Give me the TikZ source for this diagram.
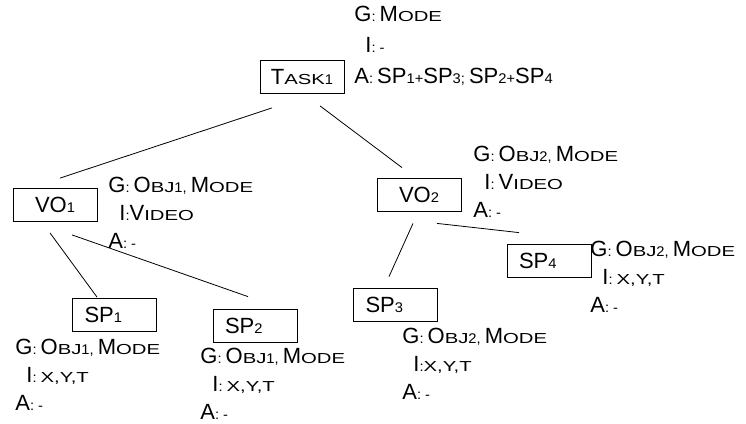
\documentclass[tikz,border=0pt]{standalone}
\usepackage{fontspec}
\setmainfont{Liberation Sans}
\newfontfamily\capfont{Liberation Sans}[FakeStretch=1.4]
\newfontfamily\numfont{Liberation Sans}[FakeStretch=1.05]
\newcommand{\lowcap}[1]{{\capfont\fontsize{14.5pt}{14.5pt}\selectfont #1}}
\newcommand{\lownum}[1]{{\numfont\fontsize{14pt}{14pt}\selectfont #1}}

\begin{document}
\begin{tikzpicture}[x=1pt, y=-1pt, line width=0.8pt,
    box/.style={draw, minimum width=84pt, minimum height=33pt, inner sep=0pt,
      font=\fontsize{22pt}{22pt}\selectfont},
    spbox/.style={box, text width=60pt, align=left, inner xsep=12pt},
    info/.style={anchor=north west, align=left, inner sep=0pt,
      font=\fontsize{22pt}{28pt}\selectfont}]
    \useasboundingbox (0, 0) rectangle (746, 423);

    \node (task1) at (302, 77) [box] {T\lowcap{ASK}\lownum{1}};
    \node (task1info) at (354, 6) [info, font=\fontsize{22pt}{31pt}\selectfont]
      {G\lownum{: }M\lowcap{ODE} \\ \hspace*{11pt}I\lownum{: -} \\
       A\lownum{: }SP\lownum{1+}SP\lownum{3; }SP\lownum{2+}SP\lownum{4}};

    \node (vo1) at (55, 205) [box] {VO\lownum{1}};
    \node (vo1info) at (108, 177) [info]
      {G\lownum{: }O\lowcap{BJ}\lownum{1, }M\lowcap{ODE} \\
       \hspace*{11pt}I\lownum{:}V\lowcap{IDEO} \\ A\lownum{: -}};

    \node (vo2) at (419, 194.5) [box] {VO\lownum{2}};
    \node (vo2info) at (473, 146) [info]
      {G\lownum{: }O\lowcap{BJ}\lownum{2, }M\lowcap{ODE} \\
       \hspace*{11pt}I\lownum{: }V\lowcap{IDEO} \\ A\lownum{: -}};

    \node (sp1) at (114.5, 315) [spbox] {SP\lownum{1}};
    \node (sp1info) at (15, 339) [info]
      {G\lownum{: }O\lowcap{BJ}\lownum{1, }M\lowcap{ODE} \\
       \hspace*{11pt}I\lownum{: }\lowcap{X,Y,T} \\ A\lownum{: -}};

    \node (sp2) at (255, 325.5) [spbox] {SP\lownum{2}};
    \node (sp2info) at (200, 348) [info]
      {G\lownum{: }O\lowcap{BJ}\lownum{1, }M\lowcap{ODE} \\
       \hspace*{12pt}I\lownum{: }\lowcap{X,Y,T} \\ A\lownum{: -}};

    \node (sp3) at (395.5, 304.5) [spbox] {SP\lownum{3}};
    \node (sp3info) at (402, 328) [info]
      {G\lownum{: }O\lowcap{BJ}\lownum{2, }M\lowcap{ODE} \\
       \hspace*{11pt}I\lownum{:}\lowcap{X,Y,T} \\ A\lownum{: -}};

    \node (sp4) at (549, 260.5) [spbox] {SP\lownum{4}};
    \node (sp4info) at (590, 241) [info]
      {G\lownum{: }O\lowcap{BJ}\lownum{2, }M\lowcap{ODE} \\
       \hspace*{12pt}I\lownum{: }\lowcap{X,Y,T} \\ A\lownum{: -}};

    % tree lines, drawn with a gap at both ends
    \draw ([xshift=-30pt, yshift=-14pt]task1.south) -- ([xshift=5pt, yshift=10pt]vo1.north);
    \draw ([xshift=18pt, yshift=-12pt]task1.south) -- ([xshift=-17pt, yshift=10pt]vo2.north);
    \draw ([xshift=-5pt, yshift=-11pt]vo1.south) -- ([xshift=-17.5pt, yshift=1pt]sp1.north);
    \draw ([xshift=17pt, yshift=-13pt]vo1.south) -- ([xshift=-7pt, yshift=12pt]sp2.north);
    \draw ([xshift=-6pt, yshift=-12pt]vo2.south) -- ([xshift=-6.5pt, yshift=11pt]sp3.north);
    \draw ([xshift=18pt, yshift=-12pt]vo2.south) -- ([xshift=-30pt, yshift=11pt]sp4.north);
  \end{tikzpicture}
\end{document}
